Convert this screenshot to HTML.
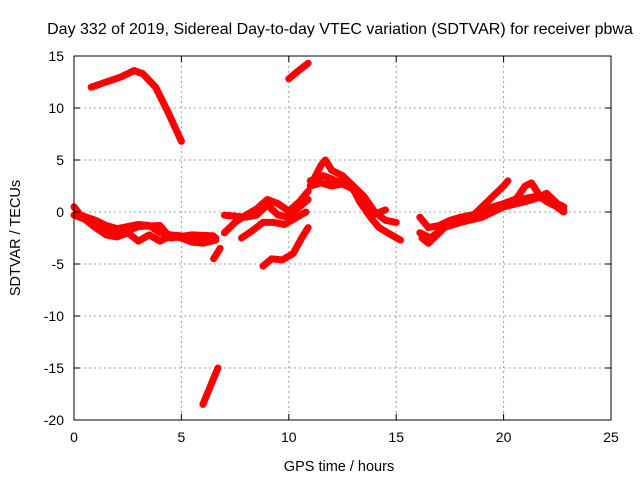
<!DOCTYPE html>
<html><head><meta charset="utf-8"><style>
body{margin:0;background:#fff}
svg{display:block;font-family:"Liberation Sans",sans-serif}
</style></head><body>
<svg id="chart" width="640" height="480" xmlns="http://www.w3.org/2000/svg">
<rect width="640" height="480" fill="#fff"/>
<text x="340" y="34" font-size="16" text-anchor="middle">Day 332 of 2019, Sidereal Day-to-day VTEC variation (SDTVAR) for receiver pbwa</text>
<text x="339" y="471" font-size="14.5" text-anchor="middle">GPS time / hours</text>
<text transform="translate(20,238) rotate(-90)" font-size="14.5" text-anchor="middle">SDTVAR / TECUs</text>
<g id="grid"></g><g id="series"></g><g id="axes"></g>
</svg>
<script>
const xTicks=[0,5,10,15,20,25];
const yTicks=[15,10,5,0,-5,-10,-15,-20];
const arcTop=[[0.8,12],[1.5,12.5],[2.2,13],[2.8,13.6],[3.2,13.3],[3.8,12],[4.4,9.5],[5,6.8]];
const arcHigh=[[10,12.8],[10.4,13.5],[10.9,14.3]];
const arcLow=[[6,-18.5],[6.3,-17],[6.7,-15]];
const bandA=[[0,0.5],[0.3,-0.3],[1,-0.8],[1.5,-1.3],[2,-1.6],[2.5,-1.4],[3,-1.2],[3.5,-1.3],[4,-2],[4.5,-2.2],[5,-2.3],[5.5,-2.5],[6,-2.6],[6.6,-2.5]];
const bandB=[[0,-0.3],[0.5,-0.7],[1,-1.5],[1.5,-2.2],[2,-2.4],[2.5,-2.0],[3,-2.8],[3.5,-2.2],[4,-2.8],[4.5,-2.3],[5,-2.5],[5.5,-2.9],[6,-3],[6.6,-2.7]];
const bandC=[[1,-1.3],[2,-2],[2.5,-1.8],[3,-1.4],[4,-1.3],[4.5,-2.5],[5.5,-2.2],[6.5,-2.3]];
const segD=[[6.5,-4.5],[6.8,-3.5]];
const midA=[[7,-2],[7.5,-1],[8,-0.3],[8.5,0.3],[9,1.2],[9.5,0.8],[10,0.1],[10.5,1],[10.9,2]];
const midB=[[7,-0.3],[7.5,-0.4],[8,-0.5],[8.5,-0.3],[9,0.7],[9.5,-0.3],[10,-0.5],[10.5,0.5],[10.9,1.2]];
const midC=[[7.8,-2.5],[8.3,-1.8],[8.8,-1],[9.3,-1],[9.8,-1.2],[10.3,-0.6],[10.8,0]];
const midD=[[8.8,-5.2],[9.2,-4.5],[9.7,-4.6],[10.2,-4],[10.6,-2.5],[10.9,-1.5]];
const peakA=[[11,2.5],[11.5,4.5],[11.7,5],[12,4],[12.5,3.5],[13,2.5],[13.5,1.5],[14,0],[14.5,-0.8],[15,-1]];
const peakB=[[11,2.5],[11.5,2.8],[12,2.5],[12.5,2.7],[13,2.2],[13.3,1],[13.8,-0.5],[14.2,-1.5],[14.6,-2],[15.2,-2.7]];
const peakC=[[11,3],[11.6,3.5],[12.2,3],[12.8,2.7],[13.4,1],[14,-0.2],[14.5,0.2]];
const rightA=[[16.1,-0.5],[16.5,-1.5],[17,-1.3],[17.5,-0.8],[18,-0.5],[18.5,-0.5],[19,0.5],[19.5,1.5],[20,2.5],[20.2,3]];
const rightB=[[16.2,-2.5],[16.5,-3],[17,-2],[17.5,-1],[18,-0.5],[18.5,-0.3],[19,0],[19.5,0.5],[20,0.8],[20.5,1],[21,2.5],[21.3,2.8],[21.7,1.5],[22,1],[22.5,0.5],[22.8,0.2]];
const rightC=[[16.1,-2],[16.6,-2.5],[17.2,-1.5],[18,-1],[19,-0.5],[20,0.5],[21,1],[21.5,1.3],[22,1.8],[22.5,0.8],[22.8,0.5]];
const rightD=[[20,0.8],[20.5,1.2],[21,1.3],[21.5,1.5],[22,1.2],[22.8,0]];
const allSeries=[arcTop,arcHigh,arcLow,bandA,bandB,bandC,segD,midA,midB,midC,midD,peakA,peakB,peakC,rightA,rightB,rightC,rightD];

const L=74,R=611,T=56,B=420;
const xs=v=>L+(v-0)/(25-0)*(R-L);
const ys=v=>B-(v+20)/(35)*(B-T);
const NS="http://www.w3.org/2000/svg";
function mk(tag,parent,attrs){const e=document.createElementNS(NS,tag);for(const k in attrs)e.setAttribute(k,attrs[k]);parent.appendChild(e);return e;}
const grid=document.getElementById('grid'),axes=document.getElementById('axes'),ser=document.getElementById('series');
xTicks.forEach(t=>{const x=xs(t);
 if(t>0&&t<25){const g=mk('line',grid,{x1:x,y1:T,x2:x,y2:B,stroke:'#a0a0a0','stroke-dasharray':'2,3'});}
 const tk=mk('line',axes,{x1:x,y1:B,x2:x,y2:B-6,stroke:'#000'});
 const tk2=mk('line',axes,{x1:x,y1:T,x2:x,y2:T+6,stroke:'#000'});
 const lb=mk('text',axes,{x:x,y:B+22,'font-size':14,'text-anchor':'middle'});lb.textContent=t;});
yTicks.forEach(t=>{const y=ys(t);
 if(t<15&&t>-20){const g=mk('line',grid,{x1:L,y1:y,x2:R,y2:y,stroke:'#a0a0a0','stroke-dasharray':'2,3'});}
 const tk=mk('line',axes,{x1:L,y1:y,x2:L+6,y2:y,stroke:'#000'});
 const tk2=mk('line',axes,{x1:R,y1:y,x2:R-6,y2:y,stroke:'#000'});
 const lb=mk('text',axes,{x:L-10,y:y+5,'font-size':14,'text-anchor':'end'});lb.textContent=t;});
const fr=mk('rect',axes,{x:L,y:T,width:R-L,height:B-T,fill:'none',stroke:'#000'});


allSeries.forEach(s=>{
 const p=mk('polyline',ser,{points:s.map(d=>xs(d[0])+','+ys(d[1])).join(' '),fill:'none',stroke:'#f00','stroke-width':7,'stroke-linejoin':'round','stroke-linecap':'round'});
 
 
});
</script>
</body></html>
